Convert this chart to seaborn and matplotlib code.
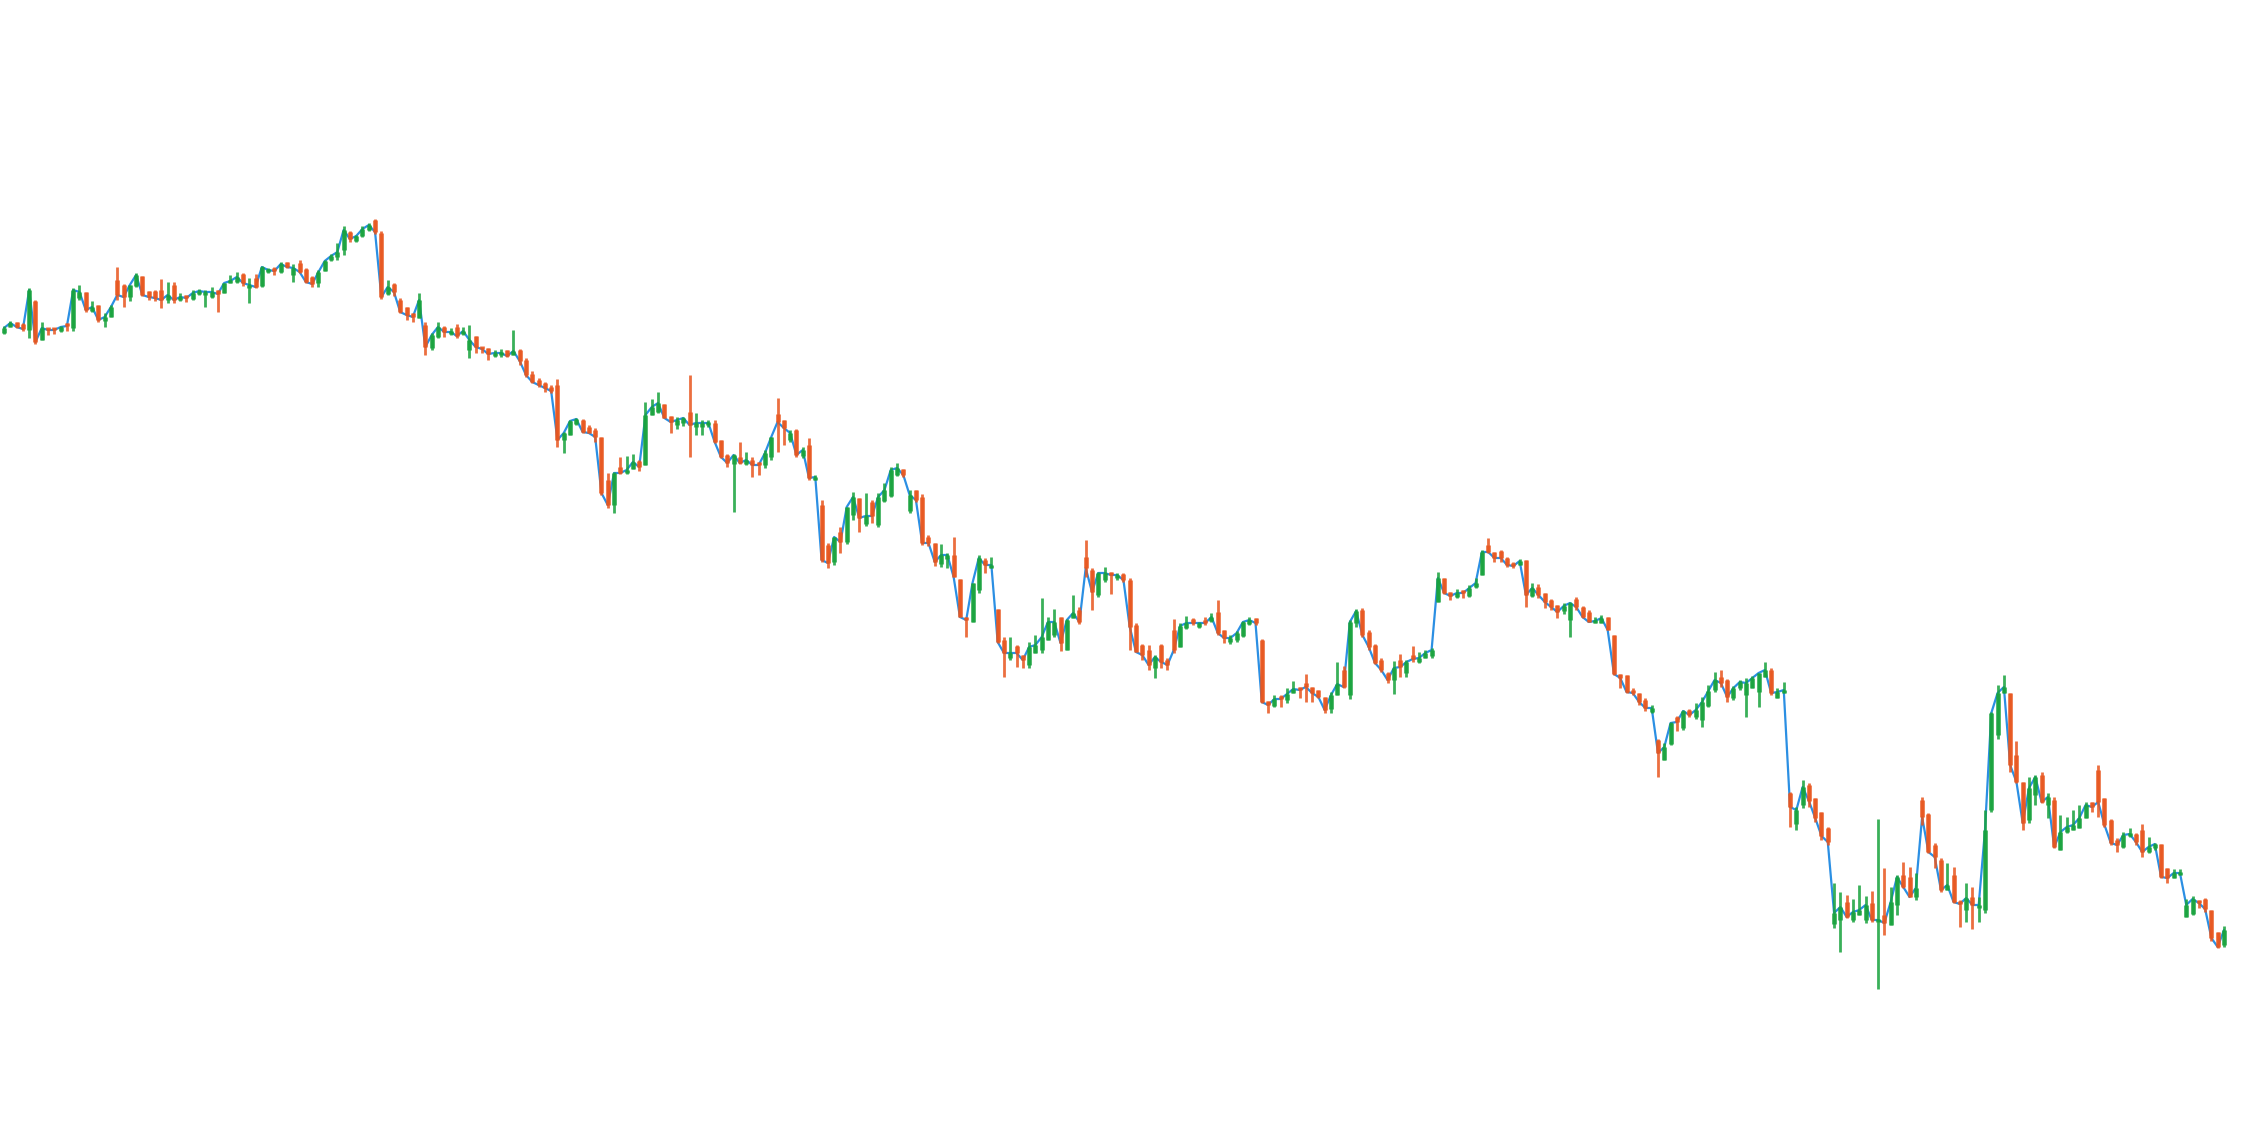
import numpy as np
import pandas as pd
import seaborn as sns
import matplotlib
matplotlib.use("Agg")
import matplotlib.pyplot as plt

# OHLC values (arbitrary price units, no axis shown)
open_ = [
    66.7, 67.3, 67.8, 67.6, 67.0, 69.9, 66.0, 67.2, 67.2, 66.9,
    67.7, 67.2, 70.2, 70.8, 68.9, 69.5, 67.9, 68.3, 72.0, 71.5,
    70.3, 71.4, 72.4, 70.9, 70.9, 71.0, 70.0, 71.5, 70.0, 70.5,
    70.1, 70.6, 70.5, 70.3, 71.0, 70.7, 71.7, 71.8, 72.6, 71.2,
    72.2, 71.4, 72.8, 73.2, 72.8, 73.8, 72.5, 73.7, 73.1, 72.3,
    71.7, 72.9, 74.0, 74.3, 75.0, 76.8, 75.9, 76.4, 77.0, 78.0,
    76.7, 70.6, 71.6, 70.0, 69.3, 68.7, 68.2, 67.5, 65.2, 66.3,
    67.3, 66.6, 67.3, 66.6, 65.0, 66.4, 65.3, 65.2, 64.4, 64.5,
    65.0, 64.5, 65.0, 64.0, 62.6, 62.0, 61.7, 61.3, 61.5, 56.0,
    56.5, 57.6, 58.0, 57.3, 57.0, 56.3, 52.0, 49.5, 53.3, 52.7,
    53.1, 53.9, 53.5, 58.5, 58.8, 59.6, 58.4, 57.5, 57.7, 58.8,
    57.3, 57.3, 57.5, 57.7, 56.0, 54.5, 53.6, 54.3, 53.6, 54.0,
    53.8, 53.5, 54.3, 58.6, 58.0, 56.0, 57.0, 54.4, 55.5, 52.0,
    49.5, 45.5, 43.8, 46.8, 45.8, 48.5, 50.2, 47.6, 49.8, 47.5,
    49.9, 50.4, 52.5, 53.1, 48.9, 51.0, 50.3, 46.3, 45.7, 43.6,
    44.1, 44.5, 42.1, 38.3, 37.8, 41.0, 44.0, 43.2, 39.1, 36.0,
    34.2, 35.4, 34.5, 33.5, 34.7, 35.0, 36.0, 36.5, 38.3, 35.0,
    38.2, 39.0, 44.3, 43.0, 40.5, 42.0, 42.8, 42.2, 42.6, 42.0,
    37.5, 35.5, 35.0, 33.2, 35.5, 34.0, 37.0, 35.3, 37.2, 38.1,
    37.3, 38.0, 37.9, 38.8, 37.0, 35.8, 36.0, 36.4, 37.6, 38.2,
    36.0, 29.9, 29.4, 30.4, 30.0, 30.7, 31.3, 31.7, 31.3, 31.0,
    30.3, 29.1, 30.5, 33.0, 30.5, 37.7, 39.0, 36.8, 35.5, 34.0,
    32.7, 32.0, 34.0, 32.7, 34.5, 33.8, 34.2, 34.4, 39.8, 42.2,
    40.8, 40.3, 41.0, 40.4, 41.3, 42.5, 45.5, 44.8, 44.9, 44.2,
    43.7, 43.5, 44.0, 40.4, 41.3, 40.7, 40.0, 39.5, 38.9, 38.0,
    40.1, 39.3, 38.8, 37.7, 37.7, 38.3, 36.5, 32.6, 32.5, 31.0,
    30.7, 30.0, 28.8, 26.0, 24.0, 25.6, 28.3, 27.2, 29.0, 28.3,
    28.0, 29.4, 31.0, 32.3, 32.0, 30.2, 31.2, 30.5, 31.2, 30.8,
    32.3, 33.0, 30.2, 30.7, 20.7, 17.6, 19.5, 21.5, 20.2, 18.8,
    17.2, 7.6, 8.0, 9.8, 8.0, 8.5, 8.0, 9.7, 7.8, 8.5,
    7.5, 9.5, 12.5, 12.3, 10.3, 20.0, 18.6, 15.5, 14.0, 11.0,
    12.5, 9.9, 9.0, 10.3, 9.2, 9.0, 19.0, 26.5, 30.7, 30.7,
    24.5, 21.8, 18.0, 20.5, 22.5, 19.5, 20.0, 15.0, 16.8, 17.0,
    17.2, 18.2, 19.8, 23.0, 20.2, 18.0, 16.0, 15.3, 16.4, 16.6,
    17.0, 14.8, 15.2, 15.6, 13.2, 12.2, 12.5, 8.3, 8.6, 10.0,
    10.1, 9.0, 6.8, 5.5,
]

high = [
    67.4, 67.9, 67.8, 67.7, 71.2, 70.0, 67.8, 67.2, 67.2, 67.4,
    67.7, 71.2, 71.5, 70.8, 69.9, 69.5, 68.7, 69.5, 73.3, 71.6,
    71.5, 72.7, 72.4, 70.9, 71.0, 72.1, 71.8, 71.8, 70.7, 70.5,
    71.0, 71.1, 71.0, 71.3, 71.0, 71.7, 72.5, 72.8, 72.7, 72.2,
    72.6, 73.4, 73.2, 73.3, 73.8, 73.8, 73.6, 74.0, 73.2, 72.4,
    73.0, 74.0, 74.6, 75.7, 77.4, 76.9, 76.5, 77.4, 77.7, 78.1,
    76.9, 72.0, 71.7, 70.2, 69.3, 68.7, 70.7, 67.8, 66.7, 67.8,
    67.4, 67.2, 67.6, 67.3, 67.5, 66.4, 65.3, 65.2, 65.0, 65.1,
    65.0, 67.0, 65.1, 64.2, 62.9, 62.2, 61.8, 61.5, 62.1, 56.8,
    58.0, 58.2, 58.1, 57.5, 57.2, 56.3, 52.7, 52.8, 54.3, 54.4,
    54.6, 54.0, 59.8, 60.1, 60.8, 59.6, 58.4, 58.3, 58.3, 62.5,
    58.7, 58.0, 58.0, 58.0, 56.0, 54.6, 54.6, 55.8, 54.8, 54.3,
    53.8, 55.0, 56.3, 60.2, 58.0, 57.0, 57.1, 55.3, 56.2, 52.5,
    50.0, 45.7, 46.3, 47.3, 49.3, 50.8, 50.2, 50.7, 50.0, 50.7,
    51.7, 53.3, 53.7, 53.1, 51.0, 51.0, 50.6, 46.5, 45.7, 45.6,
    44.7, 46.3, 42.1, 38.3, 41.7, 44.5, 44.2, 44.3, 39.1, 36.3,
    36.3, 35.5, 34.5, 35.8, 36.5, 40.2, 38.3, 39.1, 38.3, 38.1,
    40.5, 39.3, 46.0, 43.2, 42.8, 43.3, 42.8, 42.7, 42.7, 42.2,
    37.7, 35.6, 35.5, 34.5, 35.6, 34.2, 38.1, 37.7, 38.4, 38.2,
    37.8, 38.3, 38.7, 40.0, 37.0, 36.5, 36.9, 37.9, 38.3, 38.2,
    36.1, 29.9, 30.5, 30.5, 31.2, 31.9, 31.3, 32.6, 31.3, 31.0,
    30.3, 30.8, 33.8, 33.4, 38.0, 39.1, 39.2, 37.0, 35.6, 34.2,
    32.8, 33.9, 34.6, 34.0, 35.4, 34.8, 35.0, 35.2, 42.8, 42.2,
    40.8, 41.1, 41.0, 41.5, 42.2, 45.0, 46.2, 44.8, 45.0, 44.3,
    43.8, 44.1, 44.0, 41.7, 41.6, 40.7, 40.1, 39.5, 39.7, 39.8,
    40.3, 39.4, 39.0, 38.3, 38.5, 38.3, 36.5, 32.6, 32.5, 31.2,
    30.7, 30.2, 29.5, 26.1, 25.7, 27.8, 28.4, 29.0, 29.1, 29.7,
    30.3, 31.5, 32.8, 33.0, 32.1, 31.4, 32.0, 32.2, 32.4, 32.7,
    33.8, 33.2, 31.2, 31.8, 20.8, 19.3, 22.0, 21.7, 20.2, 18.8,
    17.3, 11.7, 10.8, 10.5, 10.1, 11.5, 10.4, 10.9, 18.1, 13.2,
    11.3, 12.5, 13.8, 13.3, 12.7, 20.3, 18.7, 15.7, 14.2, 13.7,
    13.3, 10.0, 11.7, 11.3, 10.3, 19.0, 28.8, 31.5, 32.5, 30.7,
    25.9, 21.8, 22.3, 22.5, 22.8, 20.7, 20.3, 18.5, 18.3, 19.0,
    19.5, 19.8, 19.8, 23.5, 20.2, 18.1, 16.2, 16.8, 17.2, 16.7,
    17.6, 16.3, 15.7, 15.6, 13.2, 13.1, 13.1, 10.1, 10.4, 10.0,
    10.2, 9.0, 6.8, 7.4,
]

low = [
    66.6, 67.3, 67.2, 66.9, 66.2, 65.6, 66.0, 66.5, 66.6, 66.8,
    66.9, 66.9, 70.0, 68.8, 68.8, 67.8, 67.3, 68.3, 70.0, 69.3,
    69.9, 71.3, 70.4, 70.0, 69.9, 69.2, 69.7, 69.7, 69.9, 69.8,
    70.0, 70.5, 69.3, 70.2, 68.8, 70.7, 71.7, 71.7, 71.4, 69.7,
    71.2, 71.3, 72.7, 72.5, 72.7, 73.2, 71.8, 72.7, 71.7, 71.3,
    71.3, 72.9, 73.9, 74.0, 74.5, 75.8, 75.8, 76.3, 76.9, 76.6,
    70.1, 70.5, 70.4, 68.7, 68.0, 67.8, 68.2, 64.5, 65.0, 66.2,
    66.3, 66.5, 66.2, 66.5, 64.2, 64.7, 64.7, 64.0, 64.3, 64.3,
    64.3, 64.5, 63.5, 62.3, 61.7, 61.3, 60.8, 60.7, 55.3, 54.7,
    56.5, 57.5, 56.7, 56.7, 55.8, 50.5, 49.2, 48.7, 52.6, 52.6,
    53.1, 52.9, 53.5, 58.5, 58.7, 58.2, 56.7, 57.1, 57.4, 54.3,
    56.5, 56.5, 57.3, 55.7, 54.2, 53.3, 48.8, 53.6, 53.5, 52.3,
    52.5, 53.2, 54.0, 54.8, 55.5, 55.8, 54.3, 54.2, 52.0, 52.0,
    43.8, 43.2, 43.5, 44.7, 45.6, 48.0, 46.8, 47.4, 47.7, 47.3,
    49.8, 50.3, 52.4, 52.3, 48.7, 49.8, 45.5, 45.4, 43.4, 43.3,
    43.2, 42.3, 38.3, 36.3, 37.8, 40.7, 42.7, 43.2, 35.7, 32.3,
    34.0, 33.3, 33.2, 33.2, 34.7, 34.7, 36.0, 36.3, 34.9, 35.0,
    38.2, 37.6, 42.3, 39.0, 40.3, 41.8, 40.6, 42.0, 41.8, 35.0,
    34.8, 34.0, 33.0, 32.2, 33.2, 33.0, 34.7, 35.3, 37.1, 37.5,
    37.2, 37.5, 37.8, 36.5, 35.7, 35.6, 35.8, 36.3, 37.5, 37.5,
    29.7, 28.7, 29.3, 29.3, 29.7, 30.7, 30.2, 29.8, 29.8, 30.2,
    28.7, 28.7, 30.5, 31.2, 30.1, 37.3, 36.3, 35.0, 33.6, 32.8,
    31.7, 30.6, 32.3, 32.3, 33.8, 33.7, 34.2, 34.2, 39.8, 40.6,
    40.0, 40.2, 40.2, 40.3, 41.2, 42.5, 44.7, 43.8, 43.8, 43.3,
    43.2, 43.5, 39.3, 40.3, 40.2, 39.2, 39.0, 38.2, 38.6, 36.3,
    39.0, 38.2, 37.8, 37.7, 37.7, 37.0, 32.5, 31.2, 30.7, 30.5,
    29.5, 28.9, 28.7, 22.3, 24.0, 25.5, 26.9, 27.0, 28.3, 28.1,
    27.3, 29.3, 30.8, 31.3, 29.8, 30.0, 31.0, 28.3, 31.2, 29.3,
    32.3, 30.5, 30.2, 30.7, 17.3, 17.0, 19.2, 19.3, 17.8, 16.0,
    15.5, 7.2, 4.8, 8.2, 7.8, 8.5, 7.7, 7.8, 1.1, 6.5,
    7.5, 8.5, 11.2, 10.3, 10.0, 17.5, 14.7, 13.2, 10.8, 11.0,
    9.7, 7.3, 7.8, 7.1, 7.8, 8.7, 18.8, 26.1, 30.7, 22.8,
    21.7, 17.0, 17.7, 19.5, 19.7, 18.2, 15.2, 15.0, 16.7, 17.0,
    17.2, 18.2, 18.8, 18.3, 17.3, 15.5, 14.8, 15.2, 16.3, 15.5,
    14.3, 14.7, 15.0, 12.2, 11.7, 12.2, 12.5, 8.3, 8.5, 9.2,
    8.8, 5.9, 5.2, 5.3,
]

close = [
    67.2, 67.7, 67.3, 67.1, 71.0, 65.8, 67.2, 67.0, 67.0, 67.3,
    67.4, 71.0, 70.8, 69.0, 69.3, 68.0, 68.3, 69.3, 70.5, 70.3,
    71.5, 72.5, 70.5, 70.3, 70.2, 70.0, 70.5, 70.0, 70.3, 70.2,
    70.7, 70.9, 70.8, 70.8, 70.6, 71.7, 71.9, 72.3, 71.7, 71.5,
    71.3, 73.3, 73.0, 72.9, 73.6, 73.3, 73.2, 72.8, 71.8, 71.6,
    72.8, 73.9, 74.4, 74.8, 77.0, 76.1, 76.4, 77.1, 77.5, 76.8,
    70.3, 71.3, 70.8, 68.8, 68.5, 68.3, 70.0, 65.3, 66.5, 67.3,
    66.8, 66.8, 66.4, 66.9, 66.0, 65.3, 65.1, 64.6, 64.7, 64.7,
    64.4, 64.9, 63.9, 62.5, 61.8, 61.5, 61.2, 60.9, 56.0, 56.7,
    57.9, 58.1, 56.8, 56.7, 56.3, 50.7, 49.5, 52.7, 52.7, 53.0,
    53.8, 53.3, 58.5, 59.3, 59.7, 58.2, 57.8, 58.0, 58.2, 57.5,
    57.7, 57.7, 57.7, 55.8, 54.3, 53.7, 54.5, 53.7, 54.0, 53.5,
    53.5, 54.7, 56.3, 57.8, 57.2, 56.7, 54.5, 55.0, 52.2, 52.3,
    44.0, 43.7, 46.3, 45.8, 49.3, 50.3, 48.2, 48.4, 48.4, 50.3,
    51.0, 53.0, 53.2, 52.5, 50.5, 50.0, 45.7, 45.7, 43.8, 44.5,
    44.5, 42.3, 38.3, 38.0, 41.7, 44.2, 43.5, 43.5, 35.8, 34.7,
    34.7, 34.7, 34.0, 35.3, 35.5, 36.3, 37.8, 37.8, 35.7, 38.0,
    38.7, 37.8, 43.2, 40.8, 42.7, 42.7, 42.5, 42.5, 42.0, 37.3,
    34.8, 34.5, 33.5, 34.3, 33.8, 33.5, 35.0, 37.4, 37.7, 37.7,
    37.7, 37.7, 38.3, 36.7, 36.2, 36.2, 36.7, 37.8, 38.0, 37.7,
    29.8, 29.5, 30.1, 30.1, 30.6, 31.1, 31.0, 31.3, 30.7, 30.3,
    29.0, 30.5, 31.6, 31.3, 37.8, 38.9, 36.5, 35.3, 33.7, 33.0,
    32.0, 33.2, 33.3, 33.8, 34.1, 34.2, 34.7, 35.0, 42.2, 40.7,
    40.4, 40.7, 40.7, 41.2, 41.7, 44.8, 44.8, 44.2, 44.2, 43.5,
    43.4, 43.9, 40.5, 41.2, 40.5, 39.8, 39.3, 38.8, 39.4, 39.7,
    39.3, 38.3, 37.8, 37.9, 38.2, 37.0, 32.6, 32.2, 30.8, 30.7,
    29.8, 29.2, 29.2, 24.7, 25.3, 27.7, 27.8, 28.9, 28.5, 29.0,
    29.8, 30.9, 32.0, 31.7, 30.3, 31.2, 31.8, 31.7, 32.2, 32.7,
    33.0, 30.7, 30.8, 31.0, 19.3, 19.0, 21.3, 19.9, 18.2, 16.4,
    15.8, 8.7, 9.3, 8.3, 8.8, 9.0, 9.5, 8.0, 8.0, 7.7,
    9.8, 12.3, 11.3, 10.3, 11.2, 18.3, 14.8, 14.3, 11.0, 11.5,
    9.8, 9.6, 10.2, 9.5, 9.5, 17.0, 28.7, 30.7, 31.3, 23.5,
    21.8, 17.7, 21.2, 22.3, 19.8, 20.3, 15.3, 16.8, 17.3, 17.5,
    18.2, 19.5, 19.3, 19.8, 17.5, 15.7, 15.5, 16.5, 16.6, 15.8,
    14.8, 15.3, 15.6, 12.3, 12.2, 12.7, 12.7, 9.5, 10.1, 9.7,
    9.1, 6.2, 5.3, 7.0,
]

UP_COLOR = "#17a23c"
DOWN_COLOR = "#e8561e"
LINE_COLOR = "#2b8fe3"

n = min(len(open_), len(high), len(low), len(close))
df = pd.DataFrame({
    "bar": np.arange(n),
    "open": open_[:n],
    "high": high[:n],
    "low": low[:n],
    "close": close[:n],
})
df["up"] = df["close"] >= df["open"]
colors = np.where(df["up"], UP_COLOR, DOWN_COLOR)

sns.set_style("white")

fig = plt.figure(figsize=(22.68, 11.48), dpi=100)
ax = fig.add_axes([0, 0, 1, 1])

# close line underneath
sns.lineplot(data=df, x="bar", y="close", ax=ax, color=LINE_COLOR,
             linewidth=1.6, zorder=1, legend=False)

# wicks and bodies
ax.vlines(df["bar"], df["low"], df["high"], colors=colors,
          linewidth=2.0, alpha=0.85, zorder=2)
body_lo = df[["open", "close"]].min(axis=1)
body_hi = df[["open", "close"]].max(axis=1)
body_hi = np.maximum(body_hi, body_lo + 0.3)
ax.vlines(df["bar"], body_lo, body_hi, colors=colors,
          linewidth=3.4, alpha=0.85, zorder=3)

ax.set_xlim(-0.64, 360.0)
ax.set_ylim(-14.8, 100)
ax.axis("off")

fig.savefig("out.png", dpi=100, facecolor="white")
